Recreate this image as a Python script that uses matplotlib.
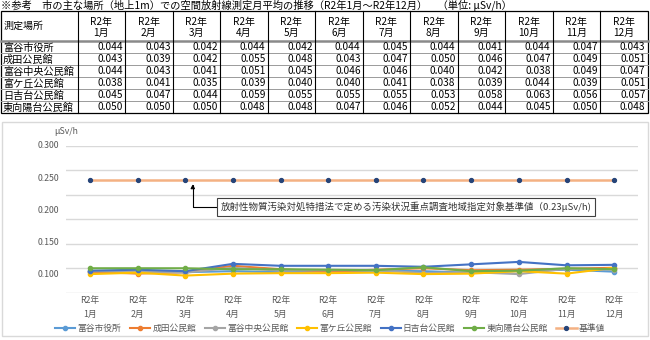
import matplotlib
matplotlib.use("Agg")
import matplotlib.pyplot as plt
import numpy as np
from matplotlib.patches import Rectangle

plt.rcParams["font.family"] = ["Noto Sans CJK JP", "DejaVu Sans"]

TITLE = "※参考　市の主な場所（地上1m）での空間放射線測定月平均の推移（R2年1月～R2年12月）　（単位: μSv/h）"
MONTHS = ["1月", "2月", "3月", "4月", "5月", "6月", "7月", "8月", "9月", "10月", "11月", "12月"]
YEAR = "R2年"

PLACES = ["富谷市役所", "成田公民館", "富谷中央公民館", "富ケ丘公民館", "日吉台公民館", "東向陽台公民館"]
tomiya_shiyakusho = [0.044, 0.043, 0.042, 0.044, 0.042, 0.044, 0.045, 0.044, 0.041, 0.044, 0.047, 0.043]
narita = [0.043, 0.039, 0.042, 0.055, 0.048, 0.043, 0.047, 0.050, 0.046, 0.047, 0.049, 0.051]
tomiya_chuo = [0.044, 0.043, 0.041, 0.051, 0.045, 0.046, 0.046, 0.040, 0.042, 0.038, 0.049, 0.047]
tomigaoka = [0.038, 0.041, 0.035, 0.039, 0.040, 0.040, 0.041, 0.038, 0.039, 0.044, 0.039, 0.051]
hiyoshidai = [0.045, 0.047, 0.044, 0.059, 0.055, 0.055, 0.055, 0.053, 0.058, 0.063, 0.056, 0.057]
higashi_mukaiyodai = [0.050, 0.050, 0.050, 0.048, 0.048, 0.047, 0.046, 0.052, 0.044, 0.045, 0.050, 0.048]
SERIES = [tomiya_shiyakusho, narita, tomiya_chuo, tomigaoka, hiyoshidai, higashi_mukaiyodai]

STANDARD_LABEL = "基準値"
STANDARD = 0.23
NOTE = "放射性物質汚染対処特措法で定める汚染状況重点調査地域指定対象基準値（0.23μSv/h)"

Y_TICKS = [0.300, 0.250, 0.200, 0.150, 0.100]

COLORS = ["#5B9BD5", "#ED7D31", "#A5A5A5", "#FFC000", "#4472C4", "#70AD47"]
STD_LINE = "#F4B183"
STD_MARK = "#264478"
GRAY = "#595959"

W, H = 650, 340
fig = plt.figure(figsize=(W / 100, H / 100), dpi=100)

# overlay in pixel units for the title, the table and the chart frame
ov = fig.add_axes([0, 0, 1, 1])
ov.set_xlim(0, W)
ov.set_ylim(H, 0)
ov.axis("off")

ov.text(1, 5, TITLE, fontsize=7.4, va="center", ha="left")

col0 = 77.5
colw = 47.5
top, head_bot, row_h = 11, 41, 12
n_rows = len(PLACES)
bottom = head_bot + n_rows * row_h
right = col0 + 12 * colw

for i in range(n_rows - 1):
    y = head_bot + (i + 1) * row_h
    ov.plot([1, right], [y, y], color="#9a9a9a", lw=0.7)
ov.plot([1, right], [head_bot, head_bot], color="#8a8a8a", lw=1.8)
ov.add_patch(Rectangle((1, top), right - 1, bottom - top, fill=False, ec="black", lw=0.9))
for j in range(12):
    x = col0 + j * colw
    ov.plot([x, x], [top, bottom], color="black", lw=0.8)

ov.text(4, (top + head_bot) / 2, "測定場所", fontsize=7.2, va="center", ha="left")
for j, m in enumerate(MONTHS):
    cx = col0 + (j + 0.5) * colw
    ov.text(cx, 21.5, YEAR, fontsize=7.2, va="center", ha="center")
    ov.text(cx, 33, m, fontsize=7.2, va="center", ha="center")

for i, (place, vals) in enumerate(zip(PLACES, SERIES)):
    cy = head_bot + (i + 0.5) * row_h + 0.5
    ov.text(3, cy, place, fontsize=7.3, va="center", ha="left")
    for j, v in enumerate(vals):
        ov.text(col0 + (j + 1) * colw - 2, cy, f"{v:.3f}", fontsize=7.3,
                va="center", ha="right")

ov.add_patch(Rectangle((1.5, 122), 646, 214, fill=False, ec="#d9d9d9", lw=1))
ov.text(78, 132, "μSv/h", fontsize=6.3, color=GRAY, va="center", ha="right")

# line chart
ax = fig.add_axes([66 / W, (H - 292.7) / H, 572 / W, 146.7 / H])
ax.patch.set_alpha(0)
x = np.arange(len(MONTHS))
for vals, color, place in zip(SERIES, COLORS, PLACES):
    ax.plot(x, vals, color=color, lw=1.5, marker="o", ms=3, label=place, zorder=3)
ax.plot(x, [STANDARD] * len(MONTHS), color=STD_LINE, lw=1.8, marker="o", ms=2.8,
        mfc=STD_MARK, mec=STD_MARK, label=STANDARD_LABEL, zorder=3)

ax.set_xlim(-0.5, len(MONTHS) - 0.5)
ax.set_ylim(0, 0.3)
ax.set_yticks(np.arange(0, 0.301, 0.05))
ax.set_yticklabels([])
ax.grid(axis="y", color="#d9d9d9", lw=1)
ax.tick_params(axis="y", length=0)
for s in ax.spines.values():
    s.set_visible(False)

# value labels of the value axis sit on a wider spacing than the gridlines
stretch = 1.313
for v in Y_TICKS:
    ax.text(-0.012, 0.3 - (0.3 - v) * stretch, f"{v:.3f}", transform=ax.get_yaxis_transform(),
            fontsize=6.3, color=GRAY, ha="right", va="center")

# two-line month labels drawn under each category
for xi, m in zip(x, MONTHS):
    ax.text(xi, -0.022, YEAR, transform=ax.get_xaxis_transform(), fontsize=6.3,
            color=GRAY, ha="center", va="top")
    ax.text(xi, -0.118, m, transform=ax.get_xaxis_transform(), fontsize=6.3,
            color=GRAY, ha="center", va="top")
ax.set_xticks(x)
ax.set_xticklabels([])
ax.tick_params(axis="x", length=0)

ax.annotate(NOTE, xy=(2.16, 0.222), xycoords="data",
            xytext=(406 / W, 1 - 207 / H), textcoords="figure fraction",
            fontsize=6.8, color="#333333", ha="center", va="center",
            bbox=dict(boxstyle="square,pad=0.35", fc="white", ec="#404040", lw=0.8),
            arrowprops=dict(arrowstyle="-|>", color="black", lw=0.8, mutation_scale=6,
                            connectionstyle="angle,angleA=0,angleB=90,rad=0",
                            relpos=(0, 0.5), shrinkA=0, shrinkB=0))

handles, labels = ax.get_legend_handles_labels()
leg = fig.legend(handles, labels, loc="center", bbox_to_anchor=(330 / W, 1 - 328.5 / H),
                 ncol=7, frameon=False, fontsize=6.3, handlelength=2.3,
                 handletextpad=0.25, columnspacing=1.0, borderpad=0)
for t in leg.get_texts():
    t.set_color(GRAY)

fig.savefig("out.png", dpi=100)
